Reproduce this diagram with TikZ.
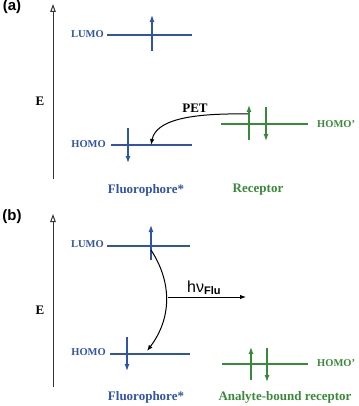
\documentclass[tikz,border=0pt]{standalone}
\usepackage{fontspec}
\setmainfont{Liberation Serif}
\setsansfont{Liberation Sans}
\usetikzlibrary{arrows.meta}
\definecolor{fblue}{RGB}{48,84,170}
\definecolor{rgreen}{RGB}{56,138,56}
\tikzset{
  lvl/.style={line width=1.2pt},
  elec/.style={line width=1.2pt,-{Latex[length=7pt,width=5pt]}},
  orb/.style={font=\fontsize{10.5}{12}\selectfont\bfseries,inner sep=0pt},
  captext/.style={font=\fontsize{13}{15}\selectfont\bfseries,inner sep=0pt},
  axis/.style={line width=1pt,draw=black!80,-{Triangle[open,length=8pt,width=5.5pt]}},
  panel/.style={font=\sffamily\bfseries\fontsize{15}{17}\selectfont,inner sep=0pt},
  elab/.style={font=\fontsize{13}{15}\selectfont\bfseries,inner sep=0pt},
  trans/.style={line width=1pt,-{Latex[length=6pt,width=4.5pt]}}
}
\begin{document}
\begin{tikzpicture}[x=1pt,y=-1pt]
\useasboundingbox (0,0) rectangle (358,406);
% ---------- (a) ----------
\node[panel] (la) at (12,7) {(a)};
\coordinate (ea0) at (53,179);
\coordinate (ea1) at (53,4);
\draw[axis] (ea0) -- (ea1);
\node[elab] (Ea) at (40,101) {E};
% fluorophore levels
\coordinate (aL0) at (107,35); \coordinate (aL1) at (192,35);
\draw[lvl,fblue] (aL0) -- (aL1);
\node[orb,fblue,anchor=east] (aLUMO) at (104,34) {LUMO};
\coordinate (aH0) at (111,145); \coordinate (aH1) at (192,145);
\draw[lvl,fblue] (aH0) -- (aH1);
\node[orb,fblue,anchor=east] (aHOMO) at (106,144) {HOMO};
\coordinate (aLe0) at (152,51); \coordinate (aLe1) at (152,15);
\draw[elec,fblue] (aLe0) -- (aLe1);
\coordinate (aHe0) at (128,128); \coordinate (aHe1) at (128,163);
\draw[elec,fblue] (aHe0) -- (aHe1);
% receptor
\coordinate (aR0) at (221,124); \coordinate (aR1) at (308,124);
\draw[lvl,rgreen] (aR0) -- (aR1);
\node[orb,rgreen,anchor=west] (aHOMOp) at (317,124) {HOMO’};
\coordinate (aRu0) at (249,140); \coordinate (aRu1) at (249,105);
\draw[elec,rgreen] (aRu0) -- (aRu1);
\coordinate (aRd0) at (266,107); \coordinate (aRd1) at (266,141);
\draw[elec,rgreen] (aRd0) -- (aRd1);
% PET
\coordinate (pet0) at (248,114);
\coordinate (pet1) at (151,145);
\draw[trans] (pet0) .. controls (190,113) and (156,120) .. (pet1);
\node[captext] (PET) at (195,108) {PET};
\node[captext,fblue] (aFl) at (146,190) {Fluorophore*};
\node[captext,rgreen] (aRec) at (258,190) {Receptor};
% ---------- (b) ----------
\node[panel] (lb) at (12,217) {(b)};
\coordinate (eb0) at (53,387);
\coordinate (eb1) at (53,214);
\draw[axis] (eb0) -- (eb1);
\node[elab] (Eb) at (40,310) {E};
\coordinate (bL0) at (107,246); \coordinate (bL1) at (190,246);
\draw[lvl,fblue] (bL0) -- (bL1);
\node[orb,fblue,anchor=east] (bLUMO) at (104,244) {LUMO};
\coordinate (bH0) at (110,354); \coordinate (bH1) at (190,354);
\draw[lvl,fblue] (bH0) -- (bH1);
\node[orb,fblue,anchor=east] (bHOMO) at (106,352) {HOMO};
\coordinate (bLe0) at (151,260); \coordinate (bLe1) at (151,225);
\draw[elec,fblue] (bLe0) -- (bLe1);
\coordinate (bHe0) at (127,337); \coordinate (bHe1) at (127,371);
\draw[elec,fblue] (bHe0) -- (bHe1);
% relaxation
\coordinate (fl0) at (151,250);
\coordinate (fl1) at (147,351);
\draw[trans] (fl0) .. controls (172,282) and (172,318) .. (fl1);
\coordinate (hv0) at (168,297); \coordinate (hv1) at (246,297);
\draw[trans] (hv0) -- (hv1);
\node[font=\sffamily\fontsize{16}{18}\selectfont,inner sep=0pt,anchor=base west] (hv) at (187,292) {hν\textsubscript{\bfseries\fontsize{11}{13}\selectfont Flu}};
% analyte-bound receptor
\coordinate (bR0) at (222,364); \coordinate (bR1) at (308,364);
\draw[lvl,rgreen] (bR0) -- (bR1);
\node[orb,rgreen,anchor=west] (bHOMOp) at (317,363) {HOMO’};
\coordinate (bRu0) at (251,380); \coordinate (bRu1) at (251,347);
\draw[elec,rgreen] (bRu0) -- (bRu1);
\coordinate (bRd0) at (267,348); \coordinate (bRd1) at (267,382);
\draw[elec,rgreen] (bRd0) -- (bRd1);
\node[captext,fblue] (bFl) at (146,397) {Fluorophore*};
\node[captext,rgreen] (bRec) at (285,397) {Analyte-bound receptor};
\end{tikzpicture}
\end{document}
